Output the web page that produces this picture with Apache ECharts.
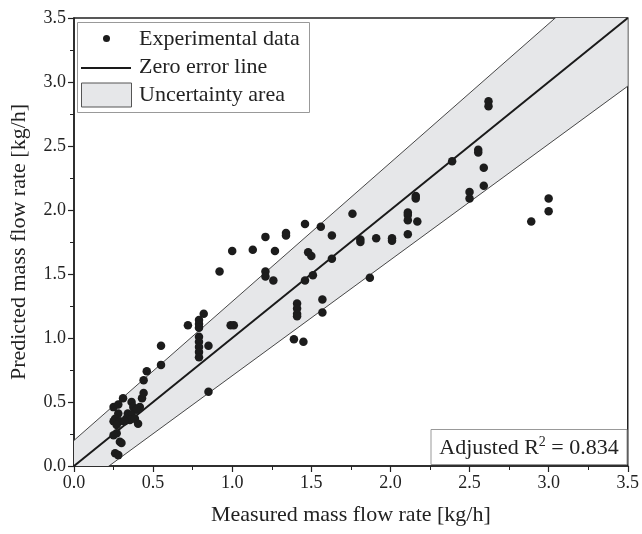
<!DOCTYPE html>
<html>
<head>
<meta charset="utf-8">
<script src="https://cdn.jsdelivr.net/npm/echarts@6/dist/echarts.min.js"></script>
<style>
html,body{margin:0;padding:0;background:#fff;}
#chart{width:642px;height:534px;}
</style>
</head>
<body>
<div id="chart"></div>
<script>
// ---- data ----
var measured = [
  0.25,0.28,0.31,0.364,0.375,0.416,0.395,0.28,0.26,0.25,0.34,0.364,0.33,0.353,0.32,0.385,0.29,0.27,0.405,0.27,0.25,0.29,0.30,0.26,0.28,0.43,0.44,0.44,0.46,0.55,0.55,
  0.72,0.79,0.79,0.79,0.79,0.79,0.79,0.79,0.79,0.82,0.85,0.85,0.92,0.99,1.01,1.00,1.13,1.21,1.21,1.21,1.26,1.27,1.34,1.34,1.41,1.41,1.41,1.41,1.39,1.45,1.46,1.46,1.48,1.50,1.51,1.56,1.57,1.57,1.63,1.63,1.76,1.81,1.81,1.87,1.91,2.01,2.01,2.11,2.11,2.11,2.11,2.17,2.16,2.16,
  2.39,2.50,2.50,2.555,2.555,2.59,2.59,2.62,2.62,2.89,3.00,3.00
];
var predicted = [
  0.46,0.48,0.53,0.50,0.46,0.46,0.44,0.41,0.37,0.35,0.41,0.40,0.37,0.36,0.35,0.37,0.35,0.32,0.33,0.255,0.24,0.19,0.18,0.10,0.085,0.53,0.57,0.67,0.74,0.79,0.94,
  1.10,1.14,1.11,1.08,1.01,0.97,0.93,0.89,0.85,1.19,0.94,0.58,1.52,1.10,1.10,1.68,1.69,1.79,1.52,1.48,1.45,1.68,1.82,1.80,1.27,1.23,1.19,1.17,0.99,0.97,1.89,1.45,1.67,1.64,1.49,1.87,1.30,1.20,1.80,1.62,1.97,1.77,1.75,1.47,1.78,1.78,1.76,1.98,1.96,1.92,1.81,1.91,2.11,2.09,
  2.38,2.14,2.09,2.47,2.45,2.33,2.19,2.85,2.81,1.91,2.09,1.99
];
var zeroLineX = [0, 3.5];
var bandOffset = 0.2;        // absolute uncertainty
var bandRelUpper = 0.085;    // relative uncertainty (upper bound)
var bandRelLower = 0.095;    // relative uncertainty (lower bound)
var axisTicks = [0, 0.5, 1.0, 1.5, 2.0, 2.5, 3.0, 3.5];
var r2Label = '0.834';

var scatterData = measured.map(function (x, i) { return [x, predicted[i]]; });
var zeroLine = zeroLineX.map(function (x) { return [x, x]; });

var FONT = '"Liberation Serif", "Times New Roman", serif';
var BAND_FILL = '#e6e7e9';

var chart = echarts.init(document.getElementById('chart'), null, {renderer: 'canvas'});

function axisCommon(name, isY) {
  return {
    type: 'value', min: axisTicks[0], max: axisTicks[axisTicks.length - 1], interval: 0.5,
    name: name, nameLocation: 'middle', nameGap: isY ? 44 : 38,
    nameTextStyle: {fontFamily: FONT, fontSize: 22, color: '#222'},
    axisLine: {show: true, onZero: false, lineStyle: {color: '#222', width: 1.5}},
    axisTick: {show: true, inside: false, length: 6, lineStyle: {color: '#222', width: 1.2}},
    minorTick: {show: true, splitNumber: 2, length: 4, lineStyle: {color: '#222', width: 1}},
    splitLine: {show: false},
    axisLabel: {fontFamily: FONT, fontSize: 18, color: '#222', margin: 8,
      formatter: function (v) { return v.toFixed(1); }}
  };
}

var option = {
  animation: false,
  backgroundColor: '#fff',
  grid: {left: 72, right: 12, top: 18, bottom: 68, show: true, borderColor: '#222', borderWidth: 1.5, backgroundColor: 'transparent'},
  xAxis: axisCommon('Measured mass flow rate [kg/h]', false),
  yAxis: axisCommon('Predicted mass flow rate [kg/h]', true),
  series: [
    {
      name: 'Uncertainty area', type: 'custom', clip: true, z: 1,
      data: [[zeroLineX[0], zeroLineX[1]]],
      renderItem: function (params, api) {
        var x0 = api.value(0), x1 = api.value(1);
        var up0 = api.coord([x0, x0 * (1 + bandRelUpper) + bandOffset]);
        var up1 = api.coord([x1, x1 * (1 + bandRelUpper) + bandOffset]);
        var lo0 = api.coord([x0, x0 * (1 - bandRelLower) - bandOffset]);
        var lo1 = api.coord([x1, x1 * (1 - bandRelLower) - bandOffset]);
        return {
          type: 'group',
          children: [
            {type: 'polygon', shape: {points: [up0, up1, lo1, lo0]}, style: {fill: BAND_FILL, stroke: null}},
            {type: 'line', shape: {x1: up0[0], y1: up0[1], x2: up1[0], y2: up1[1]}, style: {stroke: '#333', lineWidth: 0.9}},
            {type: 'line', shape: {x1: lo0[0], y1: lo0[1], x2: lo1[0], y2: lo1[1]}, style: {stroke: '#333', lineWidth: 0.9}}
          ]
        };
      }
    },
    {
      name: 'Zero error line', type: 'line', data: zeroLine, symbol: 'none', z: 2,
      lineStyle: {color: '#1a1a1a', width: 2}
    },
    {
      name: 'Experimental data', type: 'scatter', data: scatterData, symbol: 'circle', symbolSize: 8.5, z: 3,
      itemStyle: {color: '#1c1c1c', opacity: 1}
    }
  ],
  graphic: [
    {type: 'rect', left: 77, top: 22, shape: {width: 232, height: 90}, style: {fill: '#fff', stroke: '#999', lineWidth: 1}, z: 10},
    {type: 'circle', shape: {cx: 106.5, cy: 38.5, r: 3.5}, style: {fill: '#1c1c1c'}, z: 11},
    {type: 'line', shape: {x1: 81, y1: 68, x2: 131, y2: 68}, style: {stroke: '#1a1a1a', lineWidth: 2}, z: 11},
    {type: 'rect', shape: {x: 81.5, y: 83, width: 50, height: 24}, style: {fill: BAND_FILL, stroke: '#555', lineWidth: 1}, z: 11},
    {type: 'text', x: 139, y: 39, style: {text: 'Experimental data', font: '22px ' + FONT, fill: '#222', verticalAlign: 'middle'}, z: 11},
    {type: 'text', x: 139, y: 67, style: {text: 'Zero error line', font: '22px ' + FONT, fill: '#222', verticalAlign: 'middle'}, z: 11},
    {type: 'text', x: 139, y: 95, style: {text: 'Uncertainty area', font: '22px ' + FONT, fill: '#222', verticalAlign: 'middle'}, z: 11},
    {type: 'rect', shape: {x: 431, y: 429.5, width: 196, height: 35}, style: {fill: '#fff', stroke: '#999', lineWidth: 1}, z: 10},
    {type: 'text', x: 529, y: 448, z: 11,
      style: {
        text: '{a|Adjusted R}{s|2}{a| = ' + r2Label + '}',
        align: 'center', verticalAlign: 'middle',
        rich: {
          a: {fontFamily: FONT, fontSize: 22, fill: '#222', color: '#222', lineHeight: 26},
          s: {fontFamily: FONT, fontSize: 14, fill: '#222', color: '#222', lineHeight: 26, verticalAlign: 'top', padding: [0, 0, 10, 0]}
        }
      }
    }
  ]
};
chart.setOption(option);
</script>
</body>
</html>
